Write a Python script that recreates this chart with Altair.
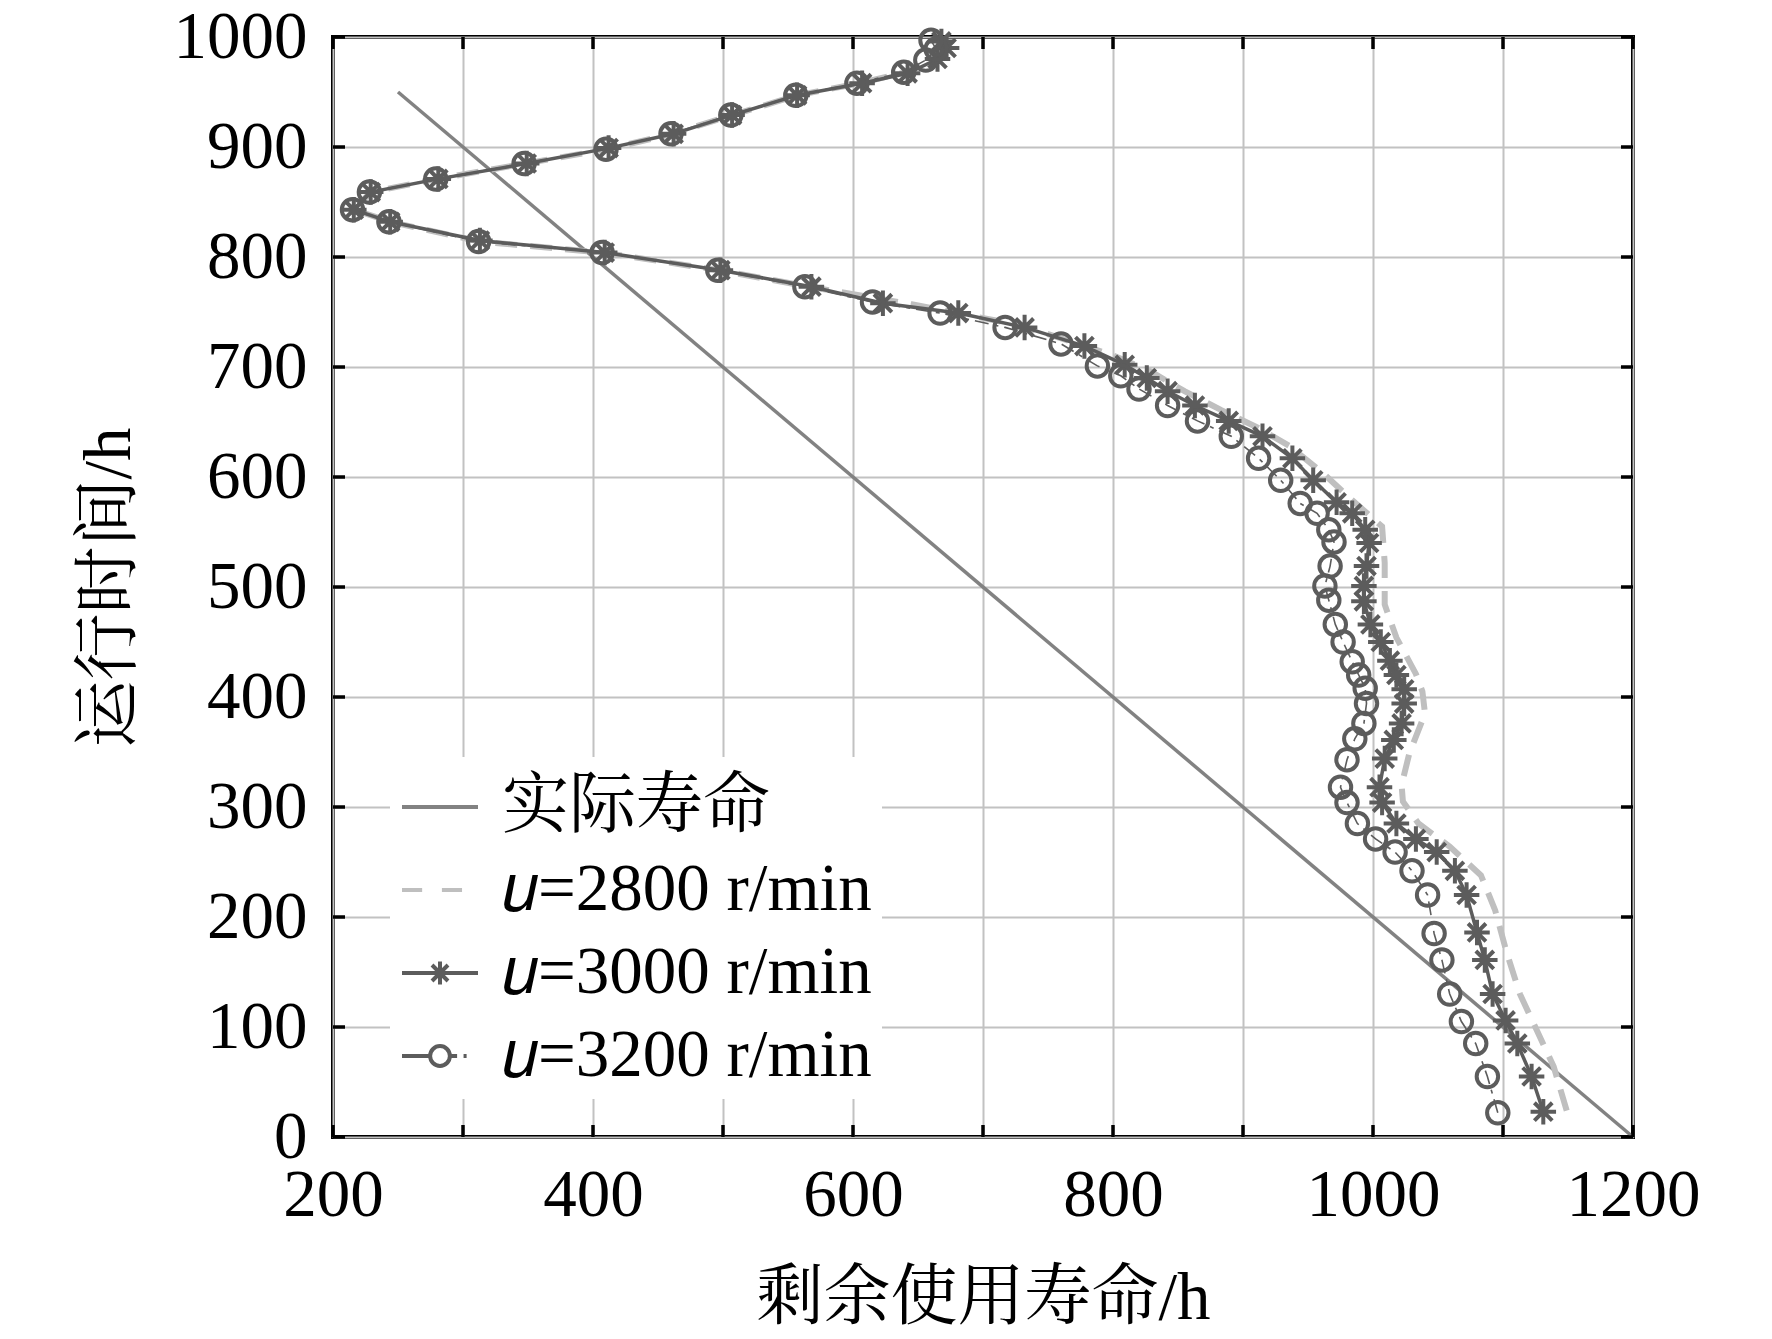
import altair as alt
import pandas as pd

# ---------------- data ----------------
actual_x = [250, 1200]
actual_y = [950, 0]

s2800_y = [24, 64, 97, 130, 167, 206, 238, 264, 285, 305, 320, 349, 385, 405, 421,
           454, 484, 522, 555, 580, 603, 628, 645, 661, 678, 696, 711, 733, 742, 757,
           773, 788, 804, 814, 832, 843, 859, 871, 885, 898, 912, 929, 947, 958, 968,
           980, 990, 996]
s2800_x = [1149, 1139, 1126, 1113, 1103, 1094, 1083, 1059, 1035, 1023, 1022, 1028, 1040, 1038, 1033,
           1018, 1009, 1009, 1007, 983, 962, 936, 911, 883, 855, 829, 799, 742, 711, 645,
           566, 497, 408, 313, 244, 216, 229, 280, 348, 411, 461, 507, 557, 605, 641,
           662, 668, 666]

s3000_y = [23, 55, 85, 106, 130, 161, 186, 220, 242, 259, 271, 285, 304, 318, 344,
           361, 376, 394, 407, 420, 433, 450, 466, 487, 501, 519, 540, 552, 567, 577,
           597, 617, 637, 651, 665, 678, 690, 702, 719, 736, 749, 758, 773, 788, 804,
           815, 832, 843, 859, 871, 885, 899, 912, 929, 947, 958, 967, 980, 990, 996]
s3000_x = [1131, 1122, 1111, 1102, 1092, 1086, 1080, 1072, 1063, 1049, 1033, 1018, 1007, 1005, 1009,
           1016, 1022, 1024, 1024, 1018, 1013, 1006, 998, 993, 993, 995, 997, 994, 984, 972,
           954, 938, 915, 889, 863, 842, 826, 809, 778, 732, 681, 623, 568, 498, 409,
           313, 244, 216, 229, 281, 349, 412, 462, 507, 557, 607, 642, 665, 672, 668]

s3200_y = [22, 55, 85, 105, 130, 161, 185, 220, 242, 259, 271, 285, 304, 318, 343,
           362, 376, 394, 408, 420, 432, 450, 466, 488, 501, 519, 541, 552, 567, 576,
           597, 617, 637, 651, 665, 680, 692, 701, 721, 736, 749, 759, 773, 788, 804,
           814, 832, 843, 859, 871, 885, 898, 912, 929, 947, 958, 968, 979, 989, 997]
s3200_x = [1096, 1088, 1079, 1068, 1059, 1053, 1047, 1042, 1030, 1017, 1002, 988, 980, 975, 980,
           986, 993, 995, 994, 989, 984, 977, 971, 966, 963, 967, 970, 966, 957, 944,
           929, 912, 891, 865, 842, 820, 806, 788, 760, 717, 667, 615, 563, 496, 407,
           312, 243, 215, 228, 279, 347, 410, 460, 506, 556, 603, 639, 656, 664, 660]

x_ticks = [200, 300, 400, 500, 600, 700, 800, 900, 1000, 1100, 1200]
y_ticks = [0, 100, 200, 300, 400, 500, 600, 700, 800, 900, 1000]
x_label_step = 200

series_names = ["实际寿命", "𝑢=2800 r/min", "𝑢=3000 r/min", "𝑢=3200 r/min"]

# ---------------- styling ----------------
FONT = "Liberation Serif, Noto Serif CJK SC, Noto Sans CJK SC"
FS = 67
C_ACTUAL = "#828282"
C_2800 = "#bfbfbf"
C_DARK = "#5c5c5c"
TICK_PX = 12
W, H = 1300, 1100

STAR = "M-1,0L1,0M0,-1L0,1M-0.7,-0.7L0.7,0.7M-0.7,0.7L0.7,-0.7"
LEG_SHAPES = [
    "M-1,0L1,0",
    "M-1,0L-0.47,0M0.05,0L0.58,0",
    "M-1,0L1,0M0,-0.3L0,0.3M-0.21,-0.21L0.21,0.21M-0.21,0.21L0.21,-0.21",
    "M-1,0L-0.26,0M0.26,0L0.45,0M0.62,0L0.7,0"
    "M0.26,0A0.26,0.26,0,1,1,-0.26,0A0.26,0.26,0,1,1,0.26,0",
]

def mk(xs, ys, name):
    return pd.DataFrame({"x": xs, "y": ys, "series": name})

df = pd.concat([
    mk(actual_x, actual_y, "actual"),
    mk(s2800_x, s2800_y, "2800"),
    mk(s3000_x, s3000_y, "3000"),
    mk(s3200_x, s3200_y, "3200"),
], ignore_index=True)

xscale = alt.Scale(domain=[x_ticks[0], x_ticks[-1]], nice=False, zero=False)
yscale = alt.Scale(domain=[y_ticks[0], y_ticks[-1]], nice=False, zero=False)

xaxis = alt.Axis(values=x_ticks, grid=True, gridColor="#c2c2c2", gridWidth=2,
                 ticks=False, domain=False, labelFont=FONT, labelFontSize=FS,
                 labelColor="black", labelPadding=25, labelFlush=False, labelOverlap=False,
                 labelExpr=f"datum.value % {x_label_step} === 0 ? datum.label : ''",
                 format="d",
                 title="剩余使用寿命/h", titleFont=FONT, titleFontSize=FS,
                 titleFontWeight="normal", titleColor="black", titlePadding=37)
yaxis = alt.Axis(values=y_ticks, grid=True, gridColor="#c2c2c2", gridWidth=2,
                 ticks=False, domain=False, labelFont=FONT, labelFontSize=FS,
                 labelColor="black", labelPadding=26, labelFlush=False, labelOverlap=False,
                 format="d",
                 title="运行时间/h", titleFont=FONT, titleFontSize=FS,
                 titleFontWeight="normal", titleColor="black", titlePadding=30)

X = alt.X("x:Q", scale=xscale, axis=xaxis)
Y = alt.Y("y:Q", scale=yscale, axis=yaxis)

base = alt.Chart(df)

def sel(name):
    return base.transform_filter(alt.datum.series == name)

actual = sel("actual").mark_line(color=C_ACTUAL, strokeWidth=3.5).encode(
    x=X, y=Y, order=alt.Order("y:Q"))
l2800 = sel("2800").mark_line(color=C_2800, strokeWidth=6, strokeDash=[22, 13]).encode(
    x=X, y=Y, order=alt.Order("y:Q"))
l3000 = sel("3000").mark_line(color=C_DARK, strokeWidth=3.5).encode(
    x=X, y=Y, order=alt.Order("y:Q"))
p3000 = sel("3000").mark_point(shape=STAR, size=650, filled=False, color=C_DARK,
                               strokeWidth=4, opacity=1).encode(x=X, y=Y)
l3200 = sel("3200").mark_line(color=C_DARK, strokeWidth=1.6, strokeDash=[14, 6, 4, 6]).encode(
    x=X, y=Y, order=alt.Order("y:Q"))
p3200 = sel("3200").mark_point(shape="circle", size=460, filled=False, color=C_DARK,
                               strokeWidth=4, opacity=1).encode(x=X, y=Y)

# inward ticks on all four sides
tkx = TICK_PX * (x_ticks[-1] - x_ticks[0]) / W
tky = TICK_PX * (y_ticks[-1] - y_ticks[0]) / H
xt = pd.DataFrame({"x": x_ticks * 2,
                   "y": [y_ticks[0]] * len(x_ticks) + [y_ticks[-1]] * len(x_ticks),
                   "y2": [y_ticks[0] + tky] * len(x_ticks) + [y_ticks[-1] - tky] * len(x_ticks)})
yt = pd.DataFrame({"y": y_ticks * 2,
                   "x": [x_ticks[0]] * len(y_ticks) + [x_ticks[-1]] * len(y_ticks),
                   "x2": [x_ticks[0] + tkx] * len(y_ticks) + [x_ticks[-1] - tkx] * len(y_ticks)})
xtick_layer = alt.Chart(xt).mark_rule(color="black", strokeWidth=3.5).encode(
    x=X, y=Y, y2="y2:Q")
ytick_layer = alt.Chart(yt).mark_rule(color="black", strokeWidth=3.5).encode(
    x=X, x2="x2:Q", y=Y)

# legend carrier (clipped away, only feeds the legend)
leg = alt.Legend(orient="none", legendX=57, legendY=720, title=None,
                 fillColor="white", padding=10, symbolSize=5776,
                 symbolStrokeWidth=4, labelFont=FONT, labelFontSize=FS,
                 labelColor="black", labelOffset=22, rowPadding=10, labelLimit=0,
                 symbolFillColor="transparent", symbolOpacity=1)
legend_df = pd.DataFrame({"name": series_names})
legend_layer = alt.Chart(legend_df).mark_point(filled=False, clip=True, strokeWidth=4,
                                               opacity=1).encode(
    x=alt.X(datum=x_ticks[0] - 500, type="quantitative", scale=xscale, axis=xaxis),
    y=alt.Y(datum=y_ticks[0] - 500, type="quantitative", scale=yscale, axis=yaxis),
    color=alt.Color("name:N", scale=alt.Scale(domain=series_names,
                    range=[C_ACTUAL, C_2800, C_DARK, C_DARK]), legend=leg),
    shape=alt.Shape("name:N", scale=alt.Scale(domain=series_names, range=LEG_SHAPES),
                    legend=leg),
)

chart = alt.layer(
    actual, l2800, l3000, l3200, p3000, p3200, xtick_layer, ytick_layer, legend_layer
).properties(
    width=W, height=H,
    autosize=alt.AutoSizeParams(type="none"),
    padding={"left": 325, "top": 29, "right": 130, "bottom": 195},
).configure_view(stroke="black", strokeWidth=4)

chart.save("out.html", embed_options={"renderer": "svg", "actions": False})
